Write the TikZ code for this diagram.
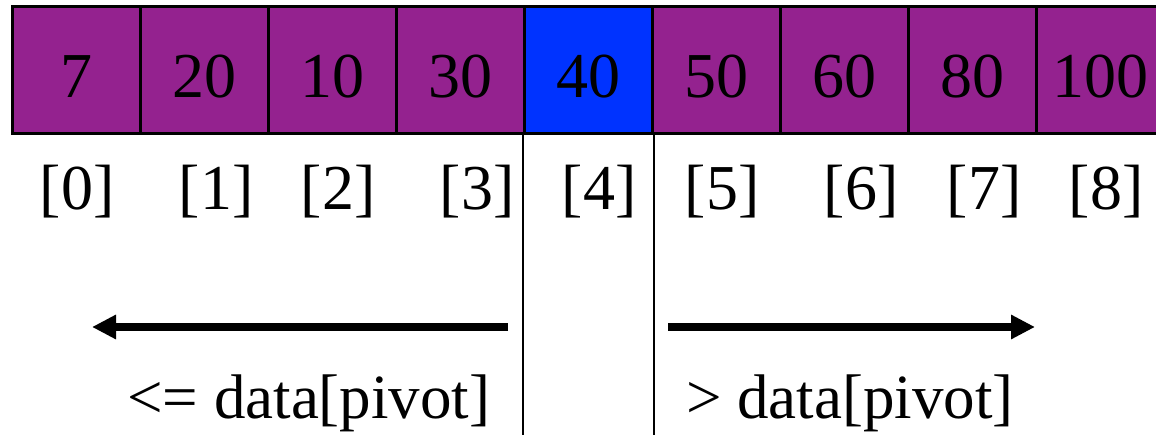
\documentclass[tikz,border=0pt]{standalone}
\usepackage{fontspec}
\setmainfont{Liberation Serif}
\usetikzlibrary{arrows.meta}
\definecolor{cellpurple}{RGB}{148,34,143}
\definecolor{pivotblue}{RGB}{0,51,255}
\tikzset{
  cell/.style={draw=black, line width=3pt, fill=cellpurple, minimum width=128pt,
    minimum height=127pt, inner sep=0pt, text height=55pt, text depth=0pt,
    font=\fontsize{64}{64}\selectfont},
  pivotcell/.style={cell, fill=pivotblue},
  idx/.style={anchor=base, inner sep=0pt, font=\fontsize{64}{64}\selectfont},
  caption/.style={anchor=base west, inner sep=0pt, font=\fontsize{63}{63}\selectfont},
  divider/.style={line width=2pt},
  bigarrow/.style={line width=8pt, -{Triangle[length=24pt,width=23pt]}}
}
\begin{document}
\begin{tikzpicture}[x=1pt,y=1pt]
\useasboundingbox (0,0) rectangle (1156,-435);
\clip (0,0) rectangle (1156,-435);
\foreach \v [count=\i from 0] in {7,20,10,30,40,50,60,80,100}{
  \ifnum\i=4
    \node[pivotcell] (c\i) at (76+128*\i,-70.5) {\v};
  \else
    \node[cell] (c\i) at (76+128*\i,-70.5) {\v};
  \fi
}
\foreach \x [count=\i from 0] in {77,216,338,477,599,722,861,984,1106}{
  \node[idx] (i\i) at (\x,-210) {[\i]};
}
\coordinate (bl) at (524,-440);
\coordinate (br) at (652,-440);
\draw[divider] (c4.south west) -- (c4.south west |- bl);
\draw[divider] (c4.south east) -- (c4.south east |- br);
\coordinate (la) at (508,-327);
\coordinate (lb) at (92,-327);
\coordinate (ra) at (668,-327);
\coordinate (rb) at (1035,-327);
\draw[bigarrow] (la) -- (lb);
\draw[bigarrow] (ra) -- (rb);
\node[caption] (tl) at (127,-418) {<= data[pivot]};
\node[caption] (tr) at (686,-418) {> data[pivot]};
\end{tikzpicture}
\end{document}
